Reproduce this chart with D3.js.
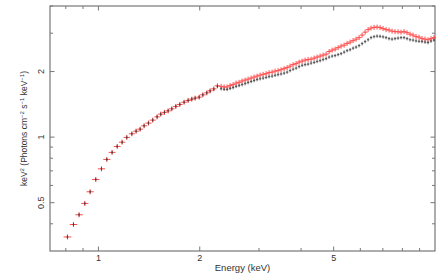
<!DOCTYPE html>
<html>
<head>
<meta charset="utf-8">
<script src="https://cdn.jsdelivr.net/npm/d3@7"></script>
<style>
  body { margin: 0; background: #fff; }
  text { font-family: "Liberation Sans", Arial, sans-serif; fill: #333; }
</style>
</head>
<body>
<svg width="436" height="273"></svg>
<script>
// energy bins (keV)
var energy = [0.809,0.843,0.876,0.911,0.945,0.982,1.021,1.059,1.098,1.137,1.176,1.214,1.257,1.294,1.330,
  1.367,1.408,1.450,1.494,1.532,1.571,1.611,1.652,1.698,1.745,1.797,1.847,1.894,1.938,1.992,2.043,2.099,2.147,2.202,2.257,
  2.315,2.363,2.412,2.462,2.513,2.565,2.618,2.672,2.728,2.784,2.842,2.901,2.961,3.022,3.085,3.149,3.214,3.281,3.349,3.418,
  3.489,3.562,3.636,3.711,3.788,3.867,3.947,4.029,4.112,4.197,4.284,4.374,4.464,4.557,4.651,4.748,4.846,4.947,5.049,5.154,
  5.261,5.370,5.481,5.595,5.711,5.829,5.950,6.073,6.199,6.328,6.457,6.591,6.728,6.867,7.009,7.154,7.303,7.454,7.608,7.766,
  7.927,8.091,8.259,8.430,8.604,8.783,8.965,9.150,9.340,9.533,9.730,9.931];

// red spectrum
var redVals = [0.348,0.397,0.440,0.496,0.561,0.639,0.715,0.790,0.851,0.906,0.948,0.997,1.036,1.065,1.088,
  1.127,1.160,1.197,1.239,1.275,1.299,1.320,1.349,1.384,1.413,1.447,1.474,1.494,1.510,1.526,1.564,1.597,1.632,1.666,1.720,
  1.71,1.70,1.70,1.725,1.742,1.77,1.785,1.81,1.827,1.846,1.866,1.886,1.906,1.926,1.942,1.956,1.977,1.988,2.009,2.02,
  2.04,2.063,2.085,2.118,2.152,2.175,2.21,2.233,2.257,2.27,2.28,2.305,2.33,2.355,2.38,2.405,2.47,2.508,2.535,2.575,
  2.617,2.645,2.693,2.731,2.774,2.818,2.863,2.94,3.034,3.116,3.166,3.19,3.20,3.183,3.15,3.116,3.099,3.066,3.05,3.045,
  3.034,3.05,3.017,2.971,2.94,2.893,2.878,2.833,2.818,2.80,2.833,2.863];

// black spectrum
var blackVals = [0.348,0.397,0.440,0.496,0.561,0.639,0.715,0.790,0.851,0.906,0.948,0.997,1.036,1.065,1.088,
  1.127,1.160,1.197,1.239,1.275,1.299,1.320,1.349,1.384,1.413,1.447,1.474,1.494,1.510,1.526,1.564,1.597,1.628,1.660,1.712,
  1.667,1.658,1.656,1.673,1.688,1.71,1.725,1.742,1.76,1.78,1.80,1.818,1.837,1.853,1.866,1.88,1.896,1.906,1.923,1.936,
  1.95,1.967,1.988,2.02,2.052,2.074,2.107,2.136,2.152,2.164,2.187,2.203,2.226,2.245,2.27,2.293,2.33,2.355,2.368,2.393,
  2.418,2.457,2.495,2.52,2.562,2.59,2.631,2.687,2.745,2.80,2.863,2.893,2.909,2.903,2.885,2.863,2.833,2.818,2.833,2.848,
  2.863,2.863,2.833,2.80,2.789,2.766,2.755,2.745,2.731,2.717,2.76,2.789];

var xTicks = [1, 2, 5];
var yTicks = [0.5, 1, 2];

var svg = d3.select("svg"),
    margin = {top: 6, right: 1, bottom: 22, left: 50},
    width = +svg.attr("width") - margin.left - margin.right,
    height = +svg.attr("height") - margin.top - margin.bottom;

var x = d3.scaleLog().domain([0.718, 10]).range([0, width]);
var y = d3.scaleLog().domain([0.3, 4]).range([height, 0]);

var g = svg.append("g").attr("transform", "translate(" + margin.left + "," + margin.top + ")");

// minor ticks
var xMinor = [0.8, 0.9, 3, 4, 6, 7, 8, 9];
var yMinor = [0.4, 0.6, 0.7, 0.8, 0.9, 3, 4];

var axisColor = "#777";

function tickLines(sel, vals, len, horiz) {
  vals.forEach(function(v) {
    if (horiz) {
      var px = x(v);
      sel.append("line").attr("x1", px).attr("x2", px).attr("y1", height).attr("y2", height - len);
      sel.append("line").attr("x1", px).attr("x2", px).attr("y1", 0).attr("y2", len);
    } else {
      var py = y(v);
      sel.append("line").attr("y1", py).attr("y2", py).attr("x1", 0).attr("x2", len);
      sel.append("line").attr("y1", py).attr("y2", py).attr("x1", width).attr("x2", width - len);
    }
  });
}

var ticks = g.append("g").attr("stroke", axisColor).attr("stroke-width", 1);
tickLines(ticks, xTicks, 4.5, true);
tickLines(ticks, xMinor, 3, true);
tickLines(ticks, yTicks, 4.5, false);
tickLines(ticks, yMinor, 3, false);

g.append("rect")
  .attr("x", 0).attr("y", 0).attr("width", width).attr("height", height)
  .attr("fill", "none").attr("stroke", axisColor).attr("stroke-width", 1.2);

// tick labels
g.selectAll(".xl").data(xTicks).enter().append("text")
  .attr("x", function(d) { return x(d); })
  .attr("y", height + 10)
  .attr("text-anchor", "middle")
  .attr("font-size", 9)
  .text(function(d) { return d; });

g.selectAll(".yl").data(yTicks).enter().append("text")
  .attr("transform", function(d) { return "translate(-6," + y(d) + ") rotate(-90)"; })
  .attr("text-anchor", "middle")
  .attr("font-size", 9)
  .text(function(d) { return d === 0.5 ? "0.5" : d; });

// axis labels
g.append("text")
  .attr("x", width / 2).attr("y", height + 20)
  .attr("text-anchor", "middle").attr("font-size", 9.5)
  .text("Energy (keV)");

var yl = g.append("text")
  .attr("transform", "translate(-23," + (height / 2) + ") rotate(-90)")
  .attr("text-anchor", "middle").attr("font-size", 8.5);
yl.append("tspan").text("keV");
yl.append("tspan").attr("dy", -3).attr("font-size", 6).text("2");
yl.append("tspan").attr("dy", 3).text(" (Photons cm");
yl.append("tspan").attr("dy", -3).attr("font-size", 6).text("\u22122");
yl.append("tspan").attr("dy", 3).text(" s");
yl.append("tspan").attr("dy", -3).attr("font-size", 6).text("\u22121");
yl.append("tspan").attr("dy", 3).text(" keV");
yl.append("tspan").attr("dy", -3).attr("font-size", 6).text("\u22121");
yl.append("tspan").attr("dy", 3).text(")");

// data crosses
function halfWidth(i) {
  var px = x(energy[i]);
  var prev = i > 0 ? x(energy[i - 1]) : px - (x(energy[i + 1]) - px);
  var next = i < energy.length - 1 ? x(energy[i + 1]) : px + (px - prev);
  return Math.max(1.6, Math.min(next - px, px - prev) / 2 + 0.9);
}

function drawSeries(vals, color, sw, hw, vh) {
  var s = g.append("g").attr("stroke", color).attr("stroke-width", sw);
  vals.forEach(function(v, i) {
    var px = x(energy[i]), py = y(v);
    var w = hw(i);
    s.append("line").attr("x1", px - w).attr("x2", px + w).attr("y1", py).attr("y2", py);
    s.append("line").attr("x1", px).attr("x2", px).attr("y1", py - vh).attr("y2", py + vh);
  });
}

drawSeries(redVals, "#ff4a4a", 1, halfWidth, 2.5);
drawSeries(blackVals, "#3a3a3a", 0.8, function(i) { return i < 35 ? 0.8 : 1.2; }, 1.7);
</script>
</body>
</html>
